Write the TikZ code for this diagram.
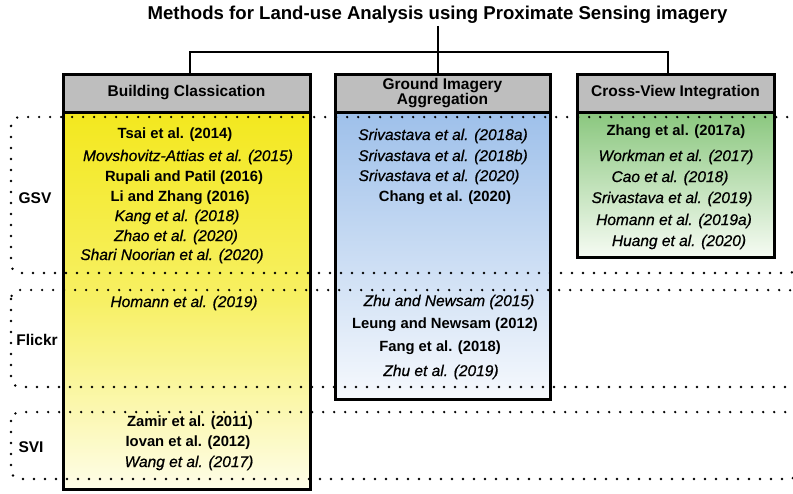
\documentclass[tikz,border=0pt]{standalone}
\usepackage{fontspec}
\setmainfont{Liberation Sans}
\newfontfamily\refitfont[FakeBold=0.7]{Liberation Sans}

\definecolor{hdrgray}{RGB}{190,190,190}
\definecolor{ytop}{RGB}{243,232,30}
\definecolor{ymid}{RGB}{247,240,100}
\definecolor{ybot}{RGB}{254,253,232}
\definecolor{btop}{RGB}{158,192,234}
\definecolor{bbot}{RGB}{246,249,253}
\definecolor{gtop}{RGB}{138,199,126}
\definecolor{gbot}{RGB}{246,251,243}

\begin{document}
\begin{tikzpicture}[x=1pt,y=-1pt,
  frame/.style={draw=black,line width=3pt,inner sep=0pt,outer sep=0pt},
  hdr/.style={frame,fill=hdrgray,minimum height=38pt,align=center,
    font=\fontsize{15.5}{14.5}\selectfont\bfseries},
  refit/.style={inner sep=0pt,font=\fontsize{15.5}{16}\selectfont\refitfont\itshape},
  refbf/.style={inner sep=0pt,font=\fontsize{14.8}{16}\selectfont\bfseries},
  region/.style={inner sep=0pt,font=\fontsize{15.5}{16}\selectfont\bfseries},
  dotline/.style={line width=2.7pt,dash pattern=on 0pt off 11pt,line cap=round},
  link/.style={line width=2pt}]
\useasboundingbox (0,0) rectangle (793,493);

% column bodies with vertical fades
\node[frame,minimum width=247pt,minimum height=377pt,
  top color=ytop,bottom color=ybot,middle color=ymid] (bodyB) at (186.5,300.5) {};
\node[frame,minimum width=215pt,minimum height=287pt,
  top color=btop,bottom color=bbot] (bodyG) at (442.5,255.5) {};
\node[frame,minimum width=197pt,minimum height=145pt,
  top color=gtop,bottom color=gbot] (bodyC) at (675.5,184.5) {};

% column headers
\node[hdr,minimum width=247pt] (hdrB) at (186.5,93) {Building Classication};
\node[hdr,minimum width=215pt] (hdrG) at (442.5,93) {Ground Imagery\\Aggregation};
\node[hdr,minimum width=197pt] (hdrC) at (675.5,93) {Cross-View Integration};

% title and tree connectors
\node[inner sep=2pt,font=\fontsize{18.6}{20}\selectfont\bfseries] (title) at (437.5,15)
  {Methods for Land-use Analysis using Proximate Sensing imagery};
\coordinate (jB) at (190,52);
\coordinate (jC) at (668,52);
\draw[link] (title.south) -- (title.south |- hdrG.north);
\draw[link] (jB |- hdrB.north) -- (jB) -- (jC) -- (jC |- hdrC.north);

% Building classification references
\node[refbf] (b1) at (175,135) {Tsai et al. (2014)};
\node[refit] (b2) at (188,157) {Movshovitz-Attias et al. (2015)};
\node[refbf] (b3) at (184,178) {Rupali and Patil (2016)};
\node[refbf] (b4) at (180,198) {Li and Zhang (2016)};
\node[refit] (b5) at (177,217) {Kang et al. (2018)};
\node[refit] (b6) at (176,237) {Zhao et al. (2020)};
\node[refit] (b7) at (172,256) {Shari Noorian et al. (2020)};
\node[refit] (b8) at (184,303) {Homann et al. (2019)};
\node[refbf] (b9) at (190,423) {Zamir et al. (2011)};
\node[refbf] (b10) at (188,443) {Iovan et al. (2012)};
\node[refit] (b11) at (189,463) {Wang et al. (2017)};

% ground imagery aggregation references
\node[refit] (g1) at (443,136) {Srivastava et al. (2018a)};
\node[refit] (g2) at (443,157) {Srivastava et al. (2018b)};
\node[refit] (g3) at (439,177) {Srivastava et al. (2020)};
\node[refbf] (g4) at (445,198) {Chang et al. (2020)};
\node[refit] (g5) at (449,302) {Zhu and Newsam (2015)};
\node[refbf] (g6) at (445,325) {Leung and Newsam (2012)};
\node[refbf] (g7) at (440,348) {Fang et al. (2018)};
\node[refit] (g8) at (441,372) {Zhu et al. (2019)};

% cross-view integration references
\node[refbf] (c1) at (676,132) {Zhang et al. (2017a)};
\node[refit] (c2) at (676,157) {Workman et al. (2017)};
\node[refit] (c3) at (670,178) {Cao et al. (2018)};
\node[refit] (c4) at (672,199) {Srivastava et al. (2019)};
\node[refit] (c5) at (674,221) {Homann et al. (2019a)};
\node[refit] (c6) at (679,242) {Huang et al. (2020)};

% image source bands
\begin{scope}
  \clip (0,0) rectangle (793,493);
  \draw[dotline,rounded corners=9pt] (11,117) rectangle (798,273);
  \draw[dotline,rounded corners=9pt] (11,290) rectangle (798,387);
  \draw[dotline,rounded corners=9pt] (11,412) rectangle (798,479);
\end{scope}
\node[region] (gsv) at (35,198) {GSV};
\node[region] (flickr) at (37,340) {Flickr};
\node[region] (svi) at (31,447) {SVI};
\end{tikzpicture}
\end{document}
